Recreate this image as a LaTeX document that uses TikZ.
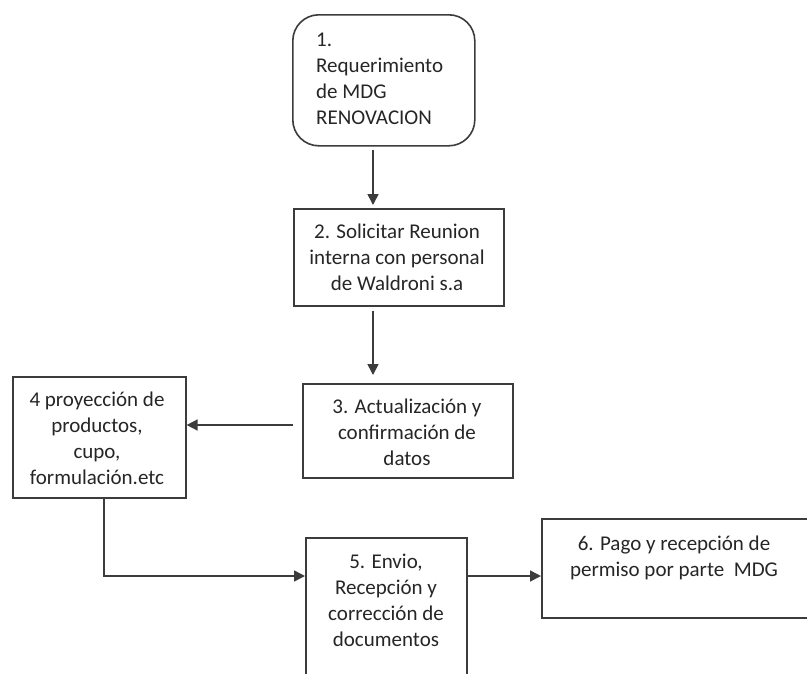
\documentclass[tikz,border=0pt]{standalone}
\usepackage{fontspec}
\setmainfont{Carlito}
\usetikzlibrary{arrows.meta}
\definecolor{ink}{HTML}{262626}
\definecolor{edge}{HTML}{3C3C3C}
\tikzset{
  stepbox/.style={draw=edge, line width=1.6pt, fill=white, inner sep=0pt, anchor=north west},
  roundbox/.style={stepbox, rounded corners=26pt},
  txt/.style={text=ink, font=\fontsize{21pt}{26pt}\selectfont, align=center, inner sep=0pt},
  arr/.style={draw=edge, line width=1.6pt, -{Triangle[length=11pt,width=11pt]}},
}
\begin{document}
\begin{tikzpicture}[x=1pt,y=-1pt]
\useasboundingbox (0,0) rectangle (807,673);
\clip (0,0) rectangle (807,673);
\fill[white] (0,0) rectangle (807,673);

% process boxes (north-west corner, width, height)
\node[roundbox, minimum width=182pt, minimum height=131pt] (b1) at (292,14) {};
\node[stepbox, minimum width=210pt, minimum height=97pt] (b2) at (293,208) {};
\node[stepbox, minimum width=210pt, minimum height=94pt] (b3) at (302,383) {};
\node[stepbox, minimum width=173pt, minimum height=121pt] (b4) at (12,376) {};
\node[stepbox, minimum width=161pt, minimum height=160pt] (b5) at (305,537) {};
\node[stepbox, minimum width=280pt, minimum height=99pt] (b6) at (541,518) {};

% box texts
\node[txt, align=left, anchor=north west] (t1) at (316,33)
  {1.\\Requerimiento\\de MDG\\RENOVACION};
\node[txt] (t2) at (397,257) {2. Solicitar Reunion\\interna con personal\\de Waldroni s.a};
\node[txt] (t3) at (407,432) {3. Actualización y\\confirmación de\\datos};
\node[txt] (t4) at (97,438) {4 proyección de\\productos,\\cupo,\\formulación.etc};
\node[txt] (t5) at (386,600) {5. Envio,\\Recepción y\\corrección de\\documentos};
\node[txt] (t6) at (674,558) {6. Pago y recepción de\\permiso por parte~~MDG};

% connector guide positions
\coordinate (c12) at (373,0);
\coordinate (c34) at (0,425);
\coordinate (c45) at (104,576);

% connectors
\draw[arr, shorten <=3pt, shorten >=3pt] (b1.south -| c12) -- (b2.north -| c12);
\draw[arr, shorten <=4pt, shorten >=8pt] (b2.south -| c12) -- (b3.north -| c12);
\draw[arr, shorten <=9pt] (b3.west |- c34) -- (b4.east |- c34);
\draw[arr] (b4.south -| c45) -- (c45) -- (b5.west |- c45);
\draw[arr] (b5.east |- c45) -- (b6.west |- c45);
\end{tikzpicture}
\end{document}
